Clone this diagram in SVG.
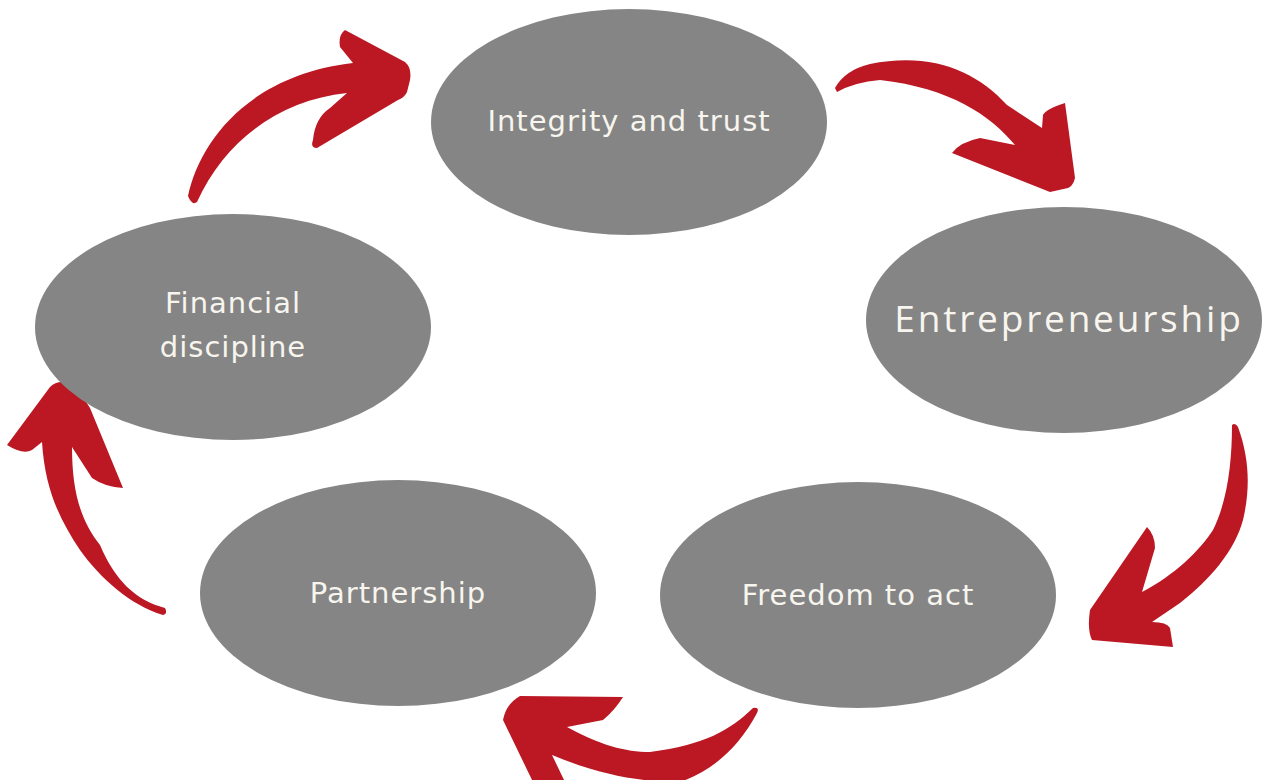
<svg xmlns="http://www.w3.org/2000/svg" width="1262" height="780" viewBox="0 0 1262 780">
<style>
.node{fill:#858585}
.lbl{fill:#f7f5ee;font-family:"DejaVu Sans","Open Sans",sans-serif;font-size:29px;letter-spacing:1px;text-anchor:middle}
.big{font-family:"Open Sans","DejaVu Sans",sans-serif;font-size:37px;letter-spacing:2.8px}
.arrow{fill:#bb1824}
</style>
<rect width="1262" height="780" fill="#ffffff"/>
<g id="connectors">
<path class="arrow" d="M188,196 C200,140 250,75 353,63 L340,47 Q338,35 345,30 L405,62 Q412,68 410,80 L407,92 Q405,97 398,100 L317,148 Q310,148 313,140 Q315,118 330,108 L347,93 C280,100 225,140 197,202 Q192,206 188,196 Z"/>
<path class="arrow" d="M835,88 Q845,70 870,64 C930,52 975,70 1007,105 L1042,128 L1043,115 Q1046,109 1065,103 L1075,178 Q1073,186 1068,188 L1050,192 L952,153 Q960,142 980,138 L1015,145 C990,115 950,88 880,80 Q855,82 837,92 Z"/>
<path class="arrow" d="M1232,425 Q1235,422 1238,427 C1250,460 1250,490 1243,520 C1235,550 1210,580 1180,603 L1152,622 Q1167,622 1170,628 L1173,647 L1092,640 Q1087,630 1090,610 L1147,527 Q1155,535 1155,548 L1142,592 C1175,575 1200,550 1213,530 C1228,500 1232,460 1232,425 Z"/>
<path class="arrow" d="M757,713 Q760,707 753,708 C730,730 705,745 650,752 C625,752 600,745 567,727 L603,720 Q615,710 623,697 L520,696 Q506,704 503,720 L533,782 L565,782 L552,755 C600,775 640,782 680,782 C715,770 740,745 757,713 Z"/>
<path class="arrow" d="M165,608 Q168,614 163,615 C130,605 100,578 80,550 C60,520 45,490 42,442 L32,450 Q23,455 7,445 L50,387 Q55,382 62,382 Q72,383 77,388 Q85,400 90,408 L123,488 Q105,487 92,478 L72,447 C72,490 80,520 100,545 C115,580 135,600 165,608 Z"/>
</g>
<g id="integrity">
<ellipse class="node" cx="629" cy="122" rx="198" ry="113"/>
<text class="lbl" x="629" y="131">Integrity and trust</text>
</g>
<g id="entrepreneurship">
<ellipse class="node" cx="1064" cy="320" rx="198" ry="113"/>
<text class="lbl big" x="1069" y="332">Entrepreneurship</text>
</g>
<g id="freedom">
<ellipse class="node" cx="858" cy="595" rx="198" ry="113"/>
<text class="lbl" x="858" y="605">Freedom to act</text>
</g>
<g id="partnership">
<ellipse class="node" cx="398" cy="593" rx="198" ry="113"/>
<text class="lbl" x="398" y="603">Partnership</text>
</g>
<g id="financial">
<ellipse class="node" cx="233" cy="327" rx="198" ry="113"/>
<text class="lbl" x="233" y="313">Financial</text>
<text class="lbl" x="233" y="357">discipline</text>
</g>
</svg>
